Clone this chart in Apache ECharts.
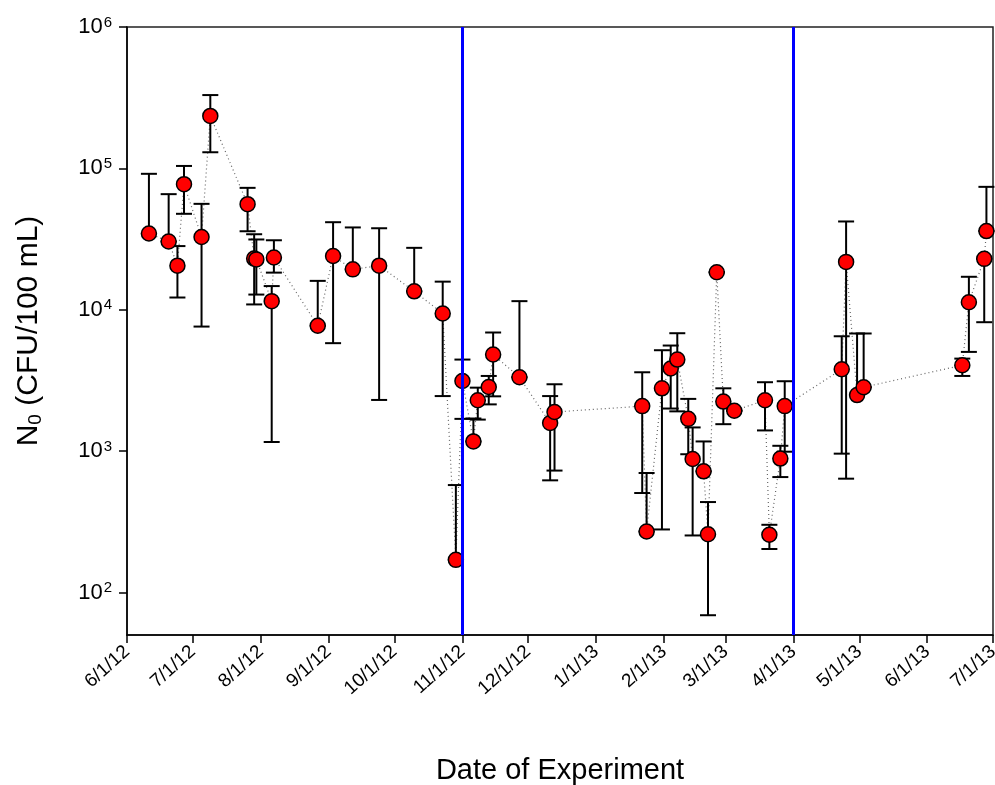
<!DOCTYPE html>
<html>
<head>
<meta charset="utf-8">
<script src="https://cdn.jsdelivr.net/npm/echarts@6/dist/echarts.min.js"></script>
<style>
  html, body { margin: 0; padding: 0; background: #fff; }
  #chart { width: 995px; height: 785px; }
</style>
</head>
<body>
<div id="chart"></div>
<script>
// ---- data ----
const dates = [
  '2012-06-11','2012-06-20','2012-06-24','2012-06-27','2012-07-05','2012-07-09',
  '2012-07-26','2012-07-29','2012-07-30','2012-08-06','2012-08-07','2012-08-27',
  '2012-09-03','2012-09-12','2012-09-24','2012-10-10','2012-10-23','2012-10-29',
  '2012-11-01','2012-11-06','2012-11-08','2012-11-13','2012-11-15','2012-11-27',
  '2012-12-11','2012-12-13','2013-01-22','2013-01-24','2013-01-31','2013-02-04',
  '2013-02-07','2013-02-12','2013-02-14','2013-02-19','2013-02-21','2013-02-25',
  '2013-02-28','2013-03-05','2013-03-19','2013-03-21','2013-03-26','2013-03-28',
  '2013-04-23','2013-04-25','2013-04-30','2013-05-03','2013-06-17','2013-06-20',
  '2013-06-27','2013-06-28'
];
const values = [
  34600, 30400, 20500, 77300, 32700, 235000,
  55800, 23000, 22700, 11500, 23400, 7700,
  24000, 19300, 20500, 13500, 9400, 170,
  3130, 1170, 2290, 2840, 4820, 3330,
  1580, 1890, 2080, 270, 2780, 3840,
  4440, 1690, 879, 719, 258, 18400,
  2240, 1930, 2290, 256, 885, 2080,
  3790, 21800, 2490, 2830, 4050, 11300,
  22900, 36000
];
const lowerBars = [
  34600, 30400, 12200, 47700, 7600, 130000,
  35900, 10900, 12800, 1160, 18300, 7700,
  5800, 19300, 2300, 13500, 2450, 170,
  1690, 1170, 1670, 2140, 2440, 3330,
  621, 728, 505, 270, 279, 2000,
  1910, 950, 253, 719, 69, 18400,
  1550, 1930, 1400, 203, 655, 990,
  959, 638, 2490, 2830, 3400, 5030,
  8160, 36000
];
const upperBars = [
  91500, 65700, 28200, 104000, 56100, 330000,
  72800, 34200, 31400, 14700, 31000, 16000,
  41600, 38200, 37700, 27400, 15800, 575,
  4440, 1700, 2810, 3400, 6900, 11500,
  2450, 2970, 3610, 700, 5170, 5580,
  6820, 2340, 1470, 1170, 436, 18400,
  2780, 1930, 3070, 301, 1090, 3120,
  6490, 42100, 6790, 6790, 4510, 17100,
  22900, 74000
];
const yTickValues = [100, 1000, 10000, 100000, 1000000];
const treatmentLines = ['2012-11-01', '2013-04-01'];
const xMin = '2012-06-01';
const xMax = '2013-07-01';

// ---- build ----
function ts(s) { const p = s.split('-').map(Number); return new Date(p[0], p[1] - 1, p[2]).getTime(); }
const pts = dates.map((d, i) => [ts(d), values[i]]);
const bars = dates.map((d, i) => [ts(d), lowerBars[i], upperBars[i]]);

const FONT = '"Liberation Sans", Arial, sans-serif';
const chart = echarts.init(document.getElementById('chart'));

chart.setOption({
  animation: false,
  backgroundColor: '#fff',
  grid: {
    left: 127, right: 2, top: 27, bottom: 150,
    containLabel: false, outerBoundsMode: 'none',
    show: true, borderColor: '#222', borderWidth: 1.5, backgroundColor: 'transparent'
  },
  xAxis: {
    type: 'time',
    min: ts(xMin), max: ts(xMax),
    minInterval: 28 * 86400000, maxInterval: 31 * 86400000,
    name: 'Date of Experiment', nameLocation: 'middle', nameGap: 121,
    nameTextStyle: { fontFamily: FONT, fontSize: 29, color: '#000' },
    axisLine: { show: true, lineStyle: { color: '#000', width: 1.5 } },
    axisTick: { show: true, length: 8, inside: false, lineStyle: { color: '#000', width: 1.5 } },
    minorTick: { show: false },
    splitLine: { show: false },
    axisLabel: {
      rotate: 42, margin: 14, fontFamily: FONT, fontSize: 19, color: '#000',
      showMinLabel: true, showMaxLabel: true, hideOverlap: false,
      formatter: function (v) {
        const d = new Date(v);
        return (d.getMonth() + 1) + '/' + d.getDate() + '/' + String(d.getFullYear()).slice(2);
      }
    }
  },
  yAxis: {
    type: 'log', logBase: 10, min: 50, max: 1000000,
    name: '{a|N}{s|0}{a| (CFU/100 mL)}', nameLocation: 'middle', nameGap: 82,
    nameTextStyle: {
      fontFamily: FONT, color: '#000',
      rich: {
        a: { fontFamily: FONT, fontSize: 30, color: '#000' },
        s: { fontFamily: FONT, fontSize: 19, color: '#000', padding: [14, 0, 0, 0] }
      }
    },
    axisLine: { show: true, lineStyle: { color: '#000', width: 1.5 } },
    axisTick: { show: true, length: 8, lineStyle: { color: '#000', width: 1.5 }, customValues: yTickValues },
    splitLine: { show: false },
    minorTick: { show: false },
    axisLabel: {
      customValues: yTickValues,
      margin: 15, fontFamily: FONT, color: '#000',
      formatter: function (v) {
        const e = Math.log10(v);
        const r = Math.round(e);
        if (Math.abs(e - r) > 1e-6) return '';
        return '{b|10}{s|' + r + '}';
      },
      rich: {
        b: { fontFamily: FONT, fontSize: 22, color: '#000', lineHeight: 24 },
        s: { fontFamily: FONT, fontSize: 15, color: '#000', verticalAlign: 'top', lineHeight: 15, padding: [0, 0, 0, 1] }
      }
    }
  },
  series: [
    {
      type: 'line', data: pts, symbol: 'none', z: 1,
      lineStyle: { color: '#666', width: 1.2, type: [1, 3] }
    },
    {
      type: 'custom', data: bars, z: 2,
      renderItem: function (params, api) {
        const x = api.value(0);
        const lo = api.coord([x, api.value(1)]);
        const hi = api.coord([x, api.value(2)]);
        const hw = 8;
        const st = { stroke: '#000', lineWidth: 2 };
        return {
          type: 'group',
          children: [
            { type: 'line', shape: { x1: lo[0], y1: lo[1], x2: hi[0], y2: hi[1] }, style: st },
            { type: 'line', shape: { x1: lo[0] - hw, y1: lo[1], x2: lo[0] + hw, y2: lo[1] }, style: st },
            { type: 'line', shape: { x1: hi[0] - hw, y1: hi[1], x2: hi[0] + hw, y2: hi[1] }, style: st }
          ]
        };
      }
    },
    {
      type: 'scatter', data: pts, z: 3, symbol: 'circle', symbolSize: 15,
      itemStyle: { color: '#ff0000', borderColor: '#000', borderWidth: 1.5, opacity: 1 }
    },
    {
      type: 'line', data: [], z: 5,
      markLine: {
        silent: true, symbol: ['none', 'none'], label: { show: false },
        lineStyle: { color: '#0000ff', width: 3, type: 'solid' },
        data: treatmentLines.map(d => ({ xAxis: ts(d) }))
      }
    }
  ]
});
</script>
</body>
</html>
